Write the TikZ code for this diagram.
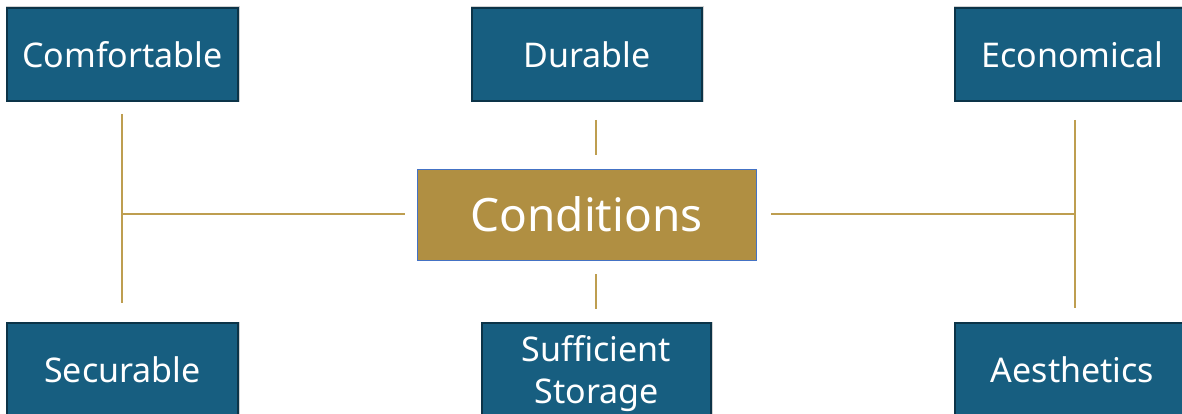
\documentclass[tikz,border=0pt]{standalone}
\usepackage{fontspec}
\setmainfont{Noto Sans}
\definecolor{boxblue}{RGB}{23,94,128}
\definecolor{boxedge}{RGB}{12,52,72}
\definecolor{gold}{RGB}{176,143,66}
\definecolor{linegold}{RGB}{190,158,80}
\definecolor{centeredge}{RGB}{68,114,196}
\tikzset{
  item/.style={draw=boxedge, line width=1.2pt, fill=boxblue, text=white,
    font=\fontsize{34}{40}\selectfont, align=center, inner sep=0pt},
  hub/.style={draw=centeredge, line width=0.9pt, fill=gold, text=white,
    font=\fontsize{46}{54}\selectfont, inner sep=0pt},
  link/.style={draw=linegold, line width=2.4pt}
}
\newcommand{\itembox}[6]{%
  % name, x1, y1, x2, y2, text
  \fill[gray!35] (#2-1.5,#3-1.5) rectangle (#4+1.5,#5+1.5);
  \node[item, minimum width=#4-#2, minimum height=#5-#3] (#1) at ({(#2+#4)/2},{(#3+#5)/2}) {#6};
}
\begin{document}
\begin{tikzpicture}[x=1pt,y=-1pt]
\useasboundingbox (0,0) rectangle (1182,414);
\itembox{comf}{7}{8}{238}{101}{Comfortable}
\itembox{dura}{472}{8}{702}{101}{Durable}
\itembox{econ}{955}{8}{1190}{101}{Economical}
\itembox{secu}{7}{323}{238}{417}{Securable}
\itembox{stor}{482}{323}{711}{424}{Sufficient\\[2pt]Storage}
\itembox{aest}{955}{323}{1190}{417}{Aesthetics}
\node[hub, minimum width=339, minimum height=91] (cond) at (586.5,214.5) {Conditions};
% bracket on the left
\coordinate (lt) at (122,114);
\coordinate (lb) at (122,303);
\coordinate (lm) at (122,214);
\coordinate (le) at (405,214);
\draw[link] (lt) -- (lb);
\draw[link] (lm) -- (le);
% bracket on the right
\coordinate (rt) at (1075,120);
\coordinate (rb) at (1075,308);
\coordinate (rm) at (1075,214);
\coordinate (rs) at (771,214);
\draw[link] (rt) -- (rb);
\draw[link] (rs) -- (rm);
% short stubs above and below the hub
\coordinate (ta) at (596,120);
\coordinate (tb) at (596,155);
\coordinate (ba) at (596,274);
\coordinate (bb) at (596,309);
\draw[link] (ta) -- (tb);
\draw[link] (ba) -- (bb);
\end{tikzpicture}
\end{document}
